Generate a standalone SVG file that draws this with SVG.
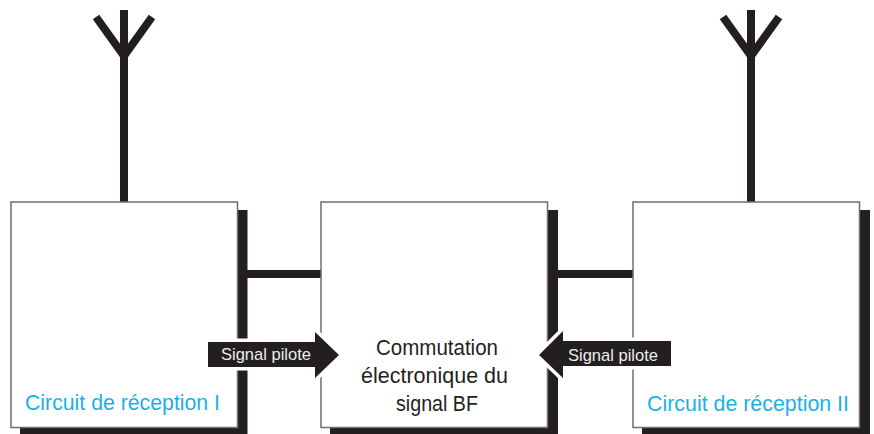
<svg xmlns="http://www.w3.org/2000/svg" width="874" height="434" viewBox="0 0 874 434">
<defs>
<style>
.box{fill:#fff;stroke:#6d6e70;stroke-width:1.5}
.shadow{fill:#231f20}
.wire{stroke:#231f20;fill:none;stroke-width:8}
.halo{stroke:#fff;stroke-width:7;fill:#231f20;paint-order:stroke}
text{font-family:"Liberation Sans",Arial,sans-serif}
.blue{fill:#1cb0ea;font-size:22.5px}
.black{fill:#231f20;font-size:21.5px}
.pilot{fill:#ececec;font-size:17px}
</style>
<g id="ant"><path class="wire" d="M0 10V202M-28 17L0 56L28 17"/></g>
</defs>
<rect width="874" height="434" fill="#fff"/>
<g id="connectors">
<use href="#ant" x="124" y="0" id="antenna-left"/>
<use href="#ant" x="751" y="0" id="antenna-right"/>
<path class="wire" d="M240 274H322M550 274H634"/>
</g>
<g id="node-reception-1">
<rect class="shadow" x="20" y="210" width="227.500" height="224"/>
<rect class="box" x="11" y="202" width="226.500" height="225.500"/>
<text class="blue" x="25" y="410" textLength="195" lengthAdjust="spacingAndGlyphs">Circuit de réception I</text>
</g>
<g id="node-commutation">
<rect class="shadow" x="330" y="210" width="228" height="224"/>
<rect class="box" x="321" y="202" width="226.500" height="225.500"/>
<text class="black" x="376" y="355" textLength="122" lengthAdjust="spacingAndGlyphs">Commutation</text>
<text class="black" x="361" y="383" textLength="147" lengthAdjust="spacingAndGlyphs">électronique du</text>
<text class="black" x="396" y="411" textLength="82" lengthAdjust="spacingAndGlyphs">signal BF</text>
</g>
<g id="node-reception-2">
<rect class="shadow" x="642" y="210" width="228" height="224"/>
<rect class="box" x="633" y="202" width="226.500" height="225.500"/>
<text class="blue" x="647" y="411" textLength="202" lengthAdjust="spacingAndGlyphs">Circuit de réception II</text>
</g>
<g id="arrow-left">
<path class="halo" d="M208 342H315V332L339 355L315 378V367H208Z"/>
<text class="pilot" x="221" y="360" textLength="90" lengthAdjust="spacingAndGlyphs">Signal pilote</text>
</g>
<g id="arrow-right">
<path class="halo" d="M671 341H563V331L539 355L563 378V366H671Z"/>
<text class="pilot" x="568" y="361" textLength="90" lengthAdjust="spacingAndGlyphs">Signal pilote</text>
</g>
</svg>
